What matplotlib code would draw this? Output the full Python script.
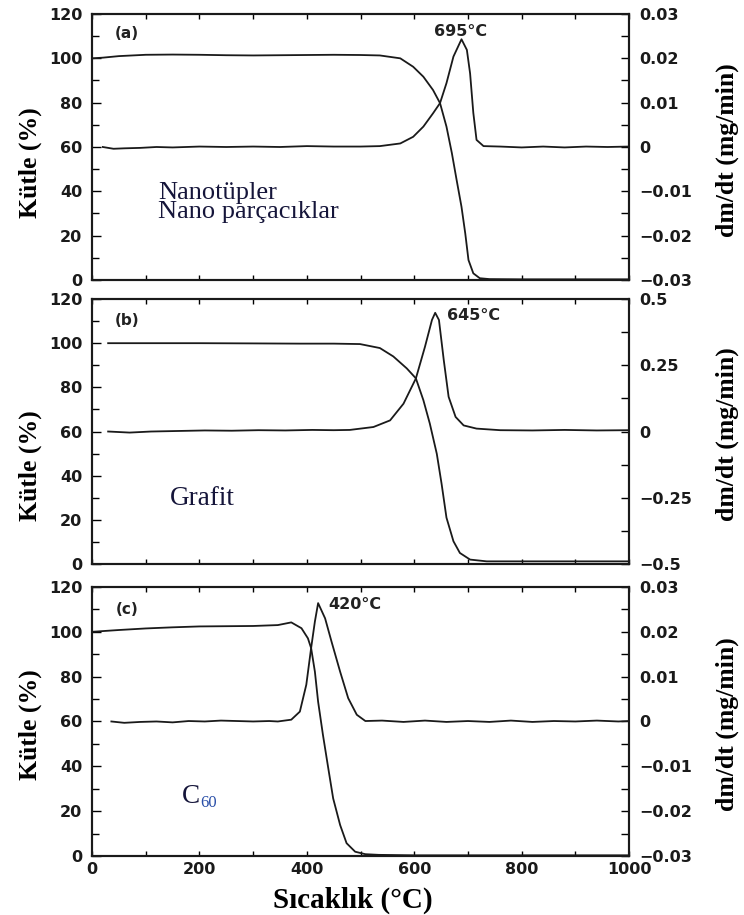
import matplotlib
matplotlib.use("Agg")
import matplotlib.pyplot as plt
from matplotlib.ticker import MultipleLocator, FixedLocator

# --- (a) Nanotüpler / Nano parçacıklar ---
temp_a_mass = [0, 20, 50, 100, 150, 200, 250, 300, 350, 400, 450, 500, 536, 574, 598, 617, 635,
               648, 660, 670, 679, 688, 695, 701, 710, 722, 740, 800, 900, 1000]
mass_a = [100, 100.3, 101.0, 101.6, 101.7, 101.6, 101.4, 101.3, 101.4, 101.5, 101.6, 101.5, 101.3,
          100.0, 96.2, 91.7, 85.7, 79.8, 69.2, 57.3, 45.0, 33.0, 21.0, 9.0, 3.0, 0.8, 0.4, 0.3, 0.3, 0.3]
temp_a_dtg = [20, 40, 60, 90, 120, 150, 200, 250, 300, 350, 400, 450, 500, 536, 574, 598, 617, 635,
              648, 660, 673, 688, 698, 704, 710, 716, 729, 760, 800, 840, 880, 920, 960, 1000]
dtg_a = [0.0, -0.0004, -0.0003, -0.0002, 0.0, -0.0001, 0.0001, 0.0, 0.0001, 0.0, 0.0002, 0.0001,
         0.0001, 0.0002, 0.0008, 0.0023, 0.0046, 0.0076, 0.0099, 0.0144, 0.0204, 0.0243, 0.0219,
         0.0166, 0.0077, 0.0016, 0.0002, 0.0001, -0.0001, 0.0001, -0.0001, 0.0001, 0.0, 0.0001]

# --- (b) Grafit ---
temp_b_mass = [30, 100, 200, 300, 387, 450, 499, 536, 561, 586, 603, 617, 629, 642, 651, 660,
               673, 685, 704, 735, 800, 900, 1000]
mass_b = [100, 100, 100, 99.9, 99.8, 99.8, 99.6, 97.8, 94.0, 88.6, 84.1, 74.2, 63.6, 49.9, 36.2,
          21.0, 10.3, 5.0, 2.0, 1.2, 1.2, 1.2, 1.2]
temp_b_dtg = [30, 70, 110, 160, 210, 260, 310, 360, 410, 450, 480, 524, 555, 580, 603, 620, 633,
              639, 646, 655, 664, 677, 692, 716, 760, 820, 880, 940, 1000]
dtg_b = [0.0, -0.004, 0.0, 0.002, 0.004, 0.003, 0.005, 0.004, 0.006, 0.005, 0.006, 0.017, 0.042,
         0.105, 0.200, 0.320, 0.421, 0.448, 0.421, 0.269, 0.131, 0.055, 0.023, 0.011, 0.005,
         0.004, 0.006, 0.004, 0.005]

# --- (c) C60 ---
temp_c_mass = [0, 50, 100, 150, 200, 250, 300, 346, 371, 390, 402, 408, 415, 421, 430, 440, 449,
               462, 474, 490, 509, 534, 600, 700, 800, 900, 1000]
mass_c = [100, 100.8, 101.5, 102.0, 102.4, 102.5, 102.6, 103.0, 104.2, 101.6, 97.1, 92.7, 82.2,
          68.8, 54.0, 39.0, 25.7, 13.8, 5.7, 1.9, 0.8, 0.5, 0.3, 0.3, 0.3, 0.3, 0.3]
temp_c_dtg = [36, 60, 90, 120, 150, 180, 210, 240, 270, 300, 330, 346, 371, 387, 399, 408, 415,
              421, 434, 446, 462, 477, 493, 509, 540, 580, 620, 660, 700, 740, 780, 820, 860,
              900, 940, 980, 1000]
dtg_c = [0.0, -0.0003, -0.0001, 0.0, -0.0002, 0.0001, 0.0, 0.0002, 0.0001, 0.0, 0.0001, 0.0,
         0.0004, 0.0022, 0.0082, 0.0164, 0.0223, 0.0264, 0.0230, 0.0178, 0.0111, 0.0052, 0.0015,
         0.0001, 0.0002, -0.0001, 0.0002, -0.0001, 0.0001, -0.0001, 0.0002, -0.0001, 0.0001,
         0.0, 0.0002, 0.0, 0.0001]

x_ticks = [0, 200, 400, 600, 800, 1000]
mass_ticks = [0, 20, 40, 60, 80, 100, 120]
dtg_ticks_ac = [-0.03, -0.02, -0.01, 0, 0.01, 0.02, 0.03]
dtg_labels_ac = ["\u22120.03", "\u22120.02", "\u22120.01", "0", "0.01", "0.02", "0.03"]
dtg_ticks_b = [-0.5, -0.25, 0, 0.25, 0.5]
dtg_labels_b = ["\u22120.5", "\u22120.25", "0", "0.25", "0.5"]

peak_labels = ["695\u00b0C", "645\u00b0C", "420\u00b0C"]
panel_tags = ["(a)", "(b)", "(c)"]

serif = "Liberation Serif"
line_kw = dict(color="#1a1a1a", lw=1.3)
tag_kw = dict(family="DejaVu Sans", weight="bold", fontsize=11, color="#222222", va="center")
peak_kw = dict(family="DejaVu Sans", weight="bold", fontsize=11.5, color="#222222", va="center")

fig = plt.figure(figsize=(7.44, 9.15), dpi=100)
# panel boxes in figure fractions
boxes = [
    [0.1237, 0.694, 0.7218, 0.2907],
    [0.1237, 0.3836, 0.7218, 0.2896],
    [0.1237, 0.0645, 0.7218, 0.294],
]

panels = [
    (temp_a_mass, mass_a, temp_a_dtg, dtg_a, 0.03, dtg_ticks_ac, dtg_labels_ac, 0.005),
    (temp_b_mass, mass_b, temp_b_dtg, dtg_b, 0.5, dtg_ticks_b, dtg_labels_b, 0.125),
    (temp_c_mass, mass_c, temp_c_dtg, dtg_c, 0.03, dtg_ticks_ac, dtg_labels_ac, 0.005),
]
ylab_frac = [0.44, 0.37, 0.49]

axes = []
for i, (tm, m, td, d, lim, dt, dl, dminor) in enumerate(panels):
    ax = fig.add_axes(boxes[i])
    ax2 = ax.twinx()
    ax.plot(tm, m, **line_kw)
    ax2.plot(td, d, **line_kw)

    ax.set_xlim(0, 1000)
    ax.set_ylim(0, 120)
    ax2.set_ylim(-lim, lim)

    ax.xaxis.set_major_locator(FixedLocator(x_ticks))
    ax.xaxis.set_minor_locator(MultipleLocator(100))
    ax.yaxis.set_major_locator(FixedLocator(mass_ticks))
    ax.yaxis.set_minor_locator(MultipleLocator(10))
    ax2.yaxis.set_major_locator(FixedLocator(dt))
    ax2.yaxis.set_minor_locator(MultipleLocator(dminor))
    ax2.set_yticklabels(dl)

    ax.tick_params(axis="x", which="both", direction="in", top=True, bottom=True,
                   length=3.5, width=1.0, pad=4)
    ax.tick_params(axis="y", which="major", direction="in", length=6.5, width=1.0, pad=7)
    ax.tick_params(axis="y", which="minor", direction="in", length=5, width=1.0)
    ax2.tick_params(axis="y", which="both", direction="in", length=6, width=1.0, pad=7)

    for lab in ax.get_yticklabels() + ax2.get_yticklabels() + ax.get_xticklabels():
        lab.set_fontfamily("DejaVu Sans")
        lab.set_fontweight("bold")
        lab.set_fontsize(11.5)
        lab.set_color("#1a1a1a")
    if i < 2:
        ax.tick_params(axis="x", labelbottom=False)

    for sp in list(ax.spines.values()) + list(ax2.spines.values()):
        sp.set_linewidth(1.5)
        sp.set_color("#1a1a1a")

    ax.text(-0.1155, ylab_frac[i], "Kütle (%)", rotation=90, transform=ax.transAxes,
            ha="center", va="center", family=serif, weight="bold", fontsize=18.5)
    ax.text(1.182, 0.49, "dm/dt (mg/min)", rotation=90, transform=ax.transAxes,
            ha="center", va="center", family=serif, weight="bold", fontsize=18.5)
    axes.append(ax)

ax_a, ax_b, ax_c = axes

ax_a.text(43, 111, panel_tags[0], ha="left", **tag_kw)
ax_b.text(43, 110.4, panel_tags[1], ha="left", **tag_kw)
ax_c.text(45, 110, panel_tags[2], ha="left", **tag_kw)

ax_a.text(687, 112, peak_labels[0], ha="center", **peak_kw)
ax_b.text(661, 112.6, peak_labels[1], ha="left", **peak_kw)
ax_c.text(440, 112, peak_labels[2], ha="left", **peak_kw)

note_color = "#15153a"
ax_a.text(123, 35.0, "Nanotüpler\nNano parçacıklar", ha="left", va="center", family=serif,
          fontsize=19, color=note_color, linespacing=0.85)
ax_b.text(145, 26.8, "Grafit", ha="left", va="baseline", family=serif,
          fontsize=19.5, color=note_color)
ax_c.text(167, 23.8, "C", ha="left", va="baseline", family=serif,
          fontsize=19.5, color=note_color)
ax_c.text(202, 22.0, "60", ha="left", va="baseline", family=serif,
          fontsize=12, color="#2a4fa8")

fig.text(353 / 744, 1 - 900 / 915, "Sıcaklık (°C)", ha="center", va="center",
         family=serif, weight="bold", fontsize=21)

fig.savefig("out.png", dpi=100)
